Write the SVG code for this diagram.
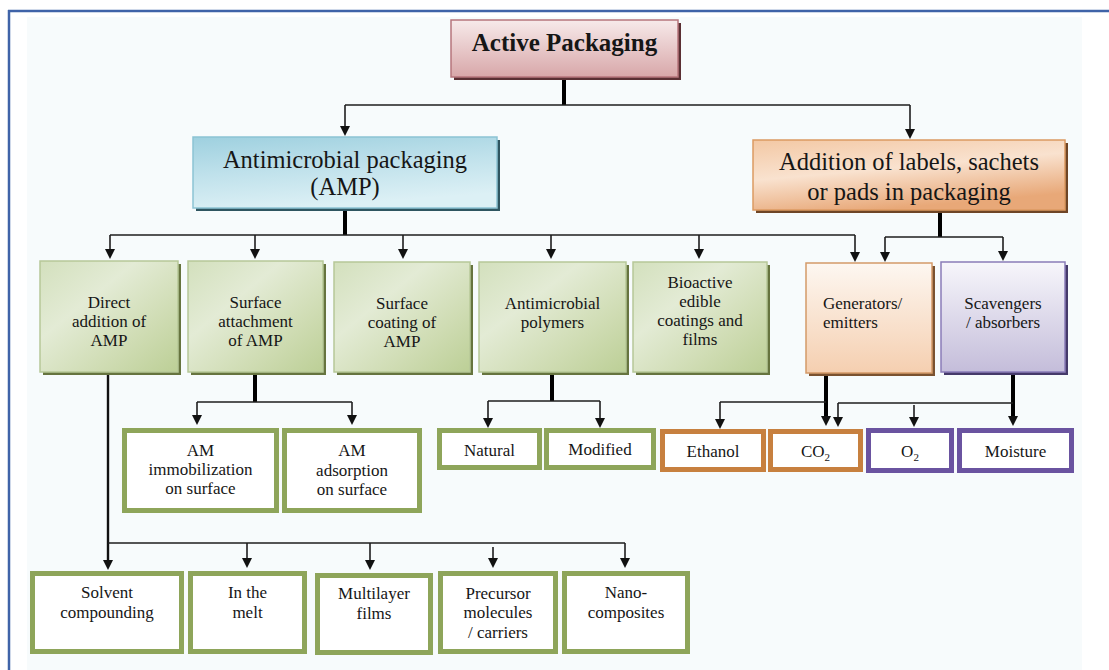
<svg xmlns="http://www.w3.org/2000/svg" width="1109" height="670" viewBox="0 0 1109 670">
<defs>
  <linearGradient id="gGreen" x1="0" y1="0" x2="1" y2="1">
    <stop offset="0" stop-color="#d3e0bd"/>
    <stop offset="0.35" stop-color="#e3ebd5"/>
    <stop offset="0.7" stop-color="#cfdcb3"/>
    <stop offset="1" stop-color="#bccf96"/>
  </linearGradient>
  <linearGradient id="gPink" x1="0" y1="0" x2="0" y2="1">
    <stop offset="0" stop-color="#f7eaea"/>
    <stop offset="1" stop-color="#d8a7a9"/>
  </linearGradient>
  <linearGradient id="gBlue" x1="0" y1="0" x2="0.3" y2="1">
    <stop offset="0" stop-color="#9ed0df"/>
    <stop offset="0.5" stop-color="#bfe1eb"/>
    <stop offset="1" stop-color="#dcf0f5"/>
  </linearGradient>
  <linearGradient id="gOrange" x1="0" y1="0" x2="0.4" y2="1">
    <stop offset="0" stop-color="#f3c8a4"/>
    <stop offset="0.5" stop-color="#f9e2cf"/>
    <stop offset="1" stop-color="#e8a878"/>
  </linearGradient>
  <linearGradient id="gPeach" x1="0" y1="0" x2="0" y2="1">
    <stop offset="0" stop-color="#fdf7f1"/>
    <stop offset="1" stop-color="#f5cfb0"/>
  </linearGradient>
  <linearGradient id="gLilac" x1="0" y1="0" x2="0" y2="1">
    <stop offset="0" stop-color="#f7f6fb"/>
    <stop offset="1" stop-color="#c4bdda"/>
  </linearGradient>
  <marker id="arr" viewBox="0 0 10 10" refX="2" refY="5" markerWidth="10" markerHeight="10" markerUnits="userSpaceOnUse" orient="auto">
    <path d="M0,0 L10,5 L0,10 z" fill="#111"/>
  </marker>
  <style>
    text { font-family: "Liberation Serif", "Times New Roman", serif; fill: #161616; text-anchor: middle; }
    .t17 { font-size: 17px; }
    .t24 { font-size: 24.5px; }
    .tb { font-size: 25px; font-weight: bold; }
    .shGreen { fill: #66743f; }
    .green { fill: url(#gGreen); stroke: #b7c898; stroke-width: 1.5; }
    .outG { fill: #ffffff; stroke: #8ea55a; stroke-width: 5; }
    .outO { fill: #ffffff; stroke: #c7803f; stroke-width: 5; }
    .outP { fill: #ffffff; stroke: #6a53a0; stroke-width: 5; }
    .thin { stroke: #1e1e1e; stroke-width: 1.6; fill: none; }
    .thick { stroke: #000; stroke-width: 4; fill: none; }
    .mid { stroke: #111; stroke-width: 2.4; fill: none; }
    .arr { marker-end: url(#arr); }
  </style>
</defs>

<rect x="0" y="0" width="1109" height="670" fill="#ffffff"/>
<rect x="27" y="17" width="1055" height="653" fill="#f7fbfc"/>
<line x1="8" y1="11" x2="1109" y2="11" stroke="#3f63a8" stroke-width="2.5"/>
<line x1="9" y1="10" x2="9" y2="670" stroke="#3f63a8" stroke-width="2.5"/>

<g id="connectors">
  <line class="thick" x1="564" y1="77" x2="564" y2="105"/>
  <line class="thin" x1="345" y1="105" x2="910" y2="105"/>
  <line class="thin arr" x1="345" y1="105" x2="345" y2="128"/>
  <line class="thin arr" x1="910" y1="105" x2="910" y2="131"/>

  <line class="thick" x1="345" y1="208" x2="345" y2="235"/>
  <line class="thin" x1="110" y1="235" x2="855" y2="235"/>
  <line class="thin arr" x1="110" y1="235" x2="110" y2="251"/>
  <line class="thin arr" x1="255" y1="235" x2="255" y2="251"/>
  <line class="thin arr" x1="403" y1="235" x2="403" y2="251"/>
  <line class="thin arr" x1="551" y1="235" x2="551" y2="251"/>
  <line class="thin arr" x1="699" y1="235" x2="699" y2="251"/>
  <line class="thin arr" x1="855" y1="235" x2="855" y2="254"/>

  <line class="thick" x1="940" y1="210" x2="940" y2="237"/>
  <line class="thin" x1="885" y1="237" x2="1003" y2="237"/>
  <line class="thin arr" x1="885" y1="237" x2="885" y2="254"/>
  <line class="thin arr" x1="1003" y1="237" x2="1003" y2="253"/>

  <line class="mid arr" x1="108" y1="373" x2="108" y2="562"/>
  <line class="thin" x1="108" y1="543" x2="625" y2="543"/>
  <line class="thin arr" x1="247" y1="543" x2="247" y2="560"/>
  <line class="thin arr" x1="370" y1="543" x2="370" y2="562"/>
  <line class="thin arr" x1="493" y1="547" x2="493" y2="560"/>
  <line class="thin arr" x1="625" y1="543" x2="625" y2="560"/>

  <line class="thick" x1="255" y1="373" x2="255" y2="402"/>
  <line class="thin" x1="197" y1="402" x2="352" y2="402"/>
  <line class="thin arr" x1="197" y1="402" x2="197" y2="417"/>
  <line class="thin arr" x1="352" y1="402" x2="352" y2="417"/>

  <line class="thick" x1="552" y1="373" x2="552" y2="401"/>
  <line class="thin" x1="488" y1="401" x2="600" y2="401"/>
  <line class="thin arr" x1="488" y1="401" x2="488" y2="420"/>
  <line class="thin arr" x1="600" y1="401" x2="600" y2="420"/>

  <line class="thick arr" x1="826" y1="374" x2="826" y2="418"/>
  <line class="thin" x1="720" y1="402" x2="826" y2="402"/>
  <line class="thin arr" x1="720" y1="402" x2="720" y2="421"/>

  <line class="thick arr" x1="1013" y1="373" x2="1013" y2="418"/>
  <line class="thin" x1="838" y1="403" x2="1013" y2="403"/>
  <line class="thin arr" x1="838" y1="403" x2="838" y2="419"/>
  <line class="thin arr" x1="914" y1="405" x2="914" y2="419"/>
</g>

<g id="n-active">
  <rect x="454" y="23" width="227" height="57" fill="#5a2f33"/>
  <rect x="451" y="20" width="227" height="57" fill="url(#gPink)" stroke="#b7767c" stroke-width="1.5"/>
  <text class="tb" x="564.5" y="51">Active Packaging</text>
</g>

<g id="n-amp">
  <rect x="196" y="140" width="304" height="71" fill="#2f5560"/>
  <rect x="193" y="137" width="304" height="71" fill="url(#gBlue)" stroke="#8cc3d3" stroke-width="1.5"/>
  <text class="t24" x="345" y="168">Antimicrobial packaging</text>
  <text class="t24" x="345" y="195">(AMP)</text>
</g>

<g id="n-addition">
  <rect x="756" y="143" width="312" height="70" fill="#6e4526"/>
  <rect x="753" y="140" width="312" height="70" fill="url(#gOrange)" stroke="#dc9a62" stroke-width="1.5"/>
  <text class="t24" x="909" y="170">Addition of labels, sachets</text>
  <text class="t24" x="909" y="200">or pads in packaging</text>
</g>

<g id="n-direct">
  <rect class="shGreen" x="43" y="264" width="138" height="111"/>
  <rect class="green" x="40" y="261" width="138" height="111"/>
  <text class="t17" x="109" y="308">Direct</text>
  <text class="t17" x="109" y="327">addition of</text>
  <text class="t17" x="109" y="346">AMP</text>
</g>

<g id="n-surf-attach">
  <rect class="shGreen" x="191" y="264" width="135" height="111"/>
  <rect class="green" x="188" y="261" width="135" height="111"/>
  <text class="t17" x="255.5" y="308">Surface</text>
  <text class="t17" x="255.5" y="327">attachment</text>
  <text class="t17" x="255.5" y="346">of AMP</text>
</g>

<g id="n-surf-coat">
  <rect class="shGreen" x="337" y="265" width="136" height="110"/>
  <rect class="green" x="334" y="262" width="136" height="110"/>
  <text class="t17" x="402" y="309">Surface</text>
  <text class="t17" x="402" y="328">coating of</text>
  <text class="t17" x="402" y="347">AMP</text>
</g>

<g id="n-polymers">
  <rect class="shGreen" x="482" y="265" width="147" height="110"/>
  <rect class="green" x="479" y="262" width="147" height="110"/>
  <text class="t17" x="552.5" y="309">Antimicrobial</text>
  <text class="t17" x="552.5" y="328">polymers</text>
</g>

<g id="n-bioactive">
  <rect class="shGreen" x="636" y="265" width="134" height="110"/>
  <rect class="green" x="633" y="262" width="134" height="110"/>
  <text class="t17" x="700" y="288">Bioactive</text>
  <text class="t17" x="700" y="307">edible</text>
  <text class="t17" x="700" y="326">coatings and</text>
  <text class="t17" x="700" y="345">films</text>
</g>

<g id="n-generators">
  <rect x="809" y="266" width="126" height="110" fill="#7a5230"/>
  <rect x="806" y="263" width="126" height="110" fill="url(#gPeach)" stroke="#d49a68" stroke-width="1.5"/>
  <text class="t17" x="823" y="309" style="text-anchor:start">Generators/</text>
  <text class="t17" x="823" y="328" style="text-anchor:start">emitters</text>
</g>

<g id="n-scavengers">
  <rect x="944" y="265" width="124" height="110" fill="#453a6a"/>
  <rect x="941" y="262" width="124" height="110" fill="url(#gLilac)" stroke="#8a7cb8" stroke-width="1.5"/>
  <text class="t17" x="1003" y="309">Scavengers</text>
  <text class="t17" x="1003" y="328">/ absorbers</text>
</g>

<g id="n-immobilization">
  <rect class="outG" x="124.5" y="430.5" width="152" height="80"/>
  <text class="t17" x="200.5" y="456">AM</text>
  <text class="t17" x="200.5" y="475">immobilization</text>
  <text class="t17" x="200.5" y="494">on surface</text>
</g>

<g id="n-adsorption">
  <rect class="outG" x="284.5" y="430.5" width="135" height="80"/>
  <text class="t17" x="352" y="456">AM</text>
  <text class="t17" x="352" y="476">adsorption</text>
  <text class="t17" x="352" y="495">on surface</text>
</g>

<g id="n-natural">
  <rect class="outG" x="439.5" y="430.5" width="100" height="37"/>
  <text class="t17" x="489.5" y="456">Natural</text>
</g>

<g id="n-modified">
  <rect class="outG" x="546.5" y="430.5" width="107" height="37"/>
  <text class="t17" x="600" y="455">Modified</text>
</g>

<g id="n-ethanol">
  <rect class="outO" x="662.5" y="431.5" width="101" height="38"/>
  <text class="t17" x="713" y="457">Ethanol</text>
</g>

<g id="n-co2">
  <rect class="outO" x="770.5" y="431.5" width="90" height="38"/>
  <text class="t17" x="815.5" y="457">CO<tspan font-size="11" dy="4">2</tspan></text>
</g>

<g id="n-o2">
  <rect class="outP" x="868.5" y="430.5" width="83" height="40"/>
  <text class="t17" x="910" y="457">O<tspan font-size="11" dy="4">2</tspan></text>
</g>

<g id="n-moisture">
  <rect class="outP" x="959.5" y="430.5" width="112" height="40"/>
  <text class="t17" x="1015.5" y="457">Moisture</text>
</g>

<g id="n-solvent">
  <rect class="outG" x="32.5" y="573.5" width="149" height="78"/>
  <text class="t17" x="107" y="598">Solvent</text>
  <text class="t17" x="107" y="618">compounding</text>
</g>

<g id="n-melt">
  <rect class="outG" x="190.5" y="573.5" width="114" height="78"/>
  <text class="t17" x="247.5" y="598">In the</text>
  <text class="t17" x="247.5" y="618">melt</text>
</g>

<g id="n-multilayer">
  <rect class="outG" x="317.5" y="575.5" width="113" height="77"/>
  <text class="t17" x="374" y="599">Multilayer</text>
  <text class="t17" x="374" y="619">films</text>
</g>

<g id="n-precursor">
  <rect class="outG" x="440.5" y="573.5" width="115" height="78"/>
  <text class="t17" x="498" y="599">Precursor</text>
  <text class="t17" x="498" y="618">molecules</text>
  <text class="t17" x="498" y="638">/ carriers</text>
</g>

<g id="n-nano">
  <rect class="outG" x="564.5" y="573.5" width="123" height="78"/>
  <text class="t17" x="626" y="598">Nano-</text>
  <text class="t17" x="626" y="618">composites</text>
</g>
</svg>
